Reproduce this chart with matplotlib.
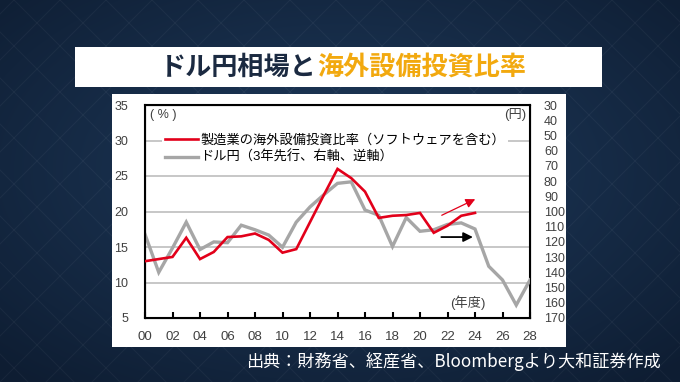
import numpy as np
import matplotlib.pyplot as plt
from matplotlib.patches import Rectangle
from matplotlib.lines import Line2D

plt.rcParams['font.family'] = ['Liberation Sans', 'Noto Sans CJK JP', 'DejaVu Sans']

# fiscal year, 00 = FY2000
fy_ratio = list(range(0, 25))
ratio = [13.0, 13.3, 13.6, 16.3, 13.3, 14.3, 16.4, 16.5, 16.9, 16.0,
         14.2, 14.7, 18.5, 22.3, 26.0, 24.7, 22.8, 19.1, 19.4, 19.5,
         19.8, 17.0, 18.0, 19.4, 19.8]

# USD/JPY, 3 years ahead (right axis, inverted)
fy_yen = list(range(0, 29))
usdjpy = [115, 140, 124, 107, 125, 120, 120.5, 109, 112, 115.5,
          123.5, 107, 97, 89, 81.5, 80.5, 99, 102.5, 123, 104,
          113, 112, 108.5, 107.5, 111.5, 136, 145, 161.5, 145]

x_ticks = list(range(0, 29, 2))
x_labels = [f"{t:02d}" for t in x_ticks]
left_ticks = [5, 10, 15, 20, 25, 30, 35]
right_ticks = list(range(30, 171, 10))

# trend arrows (from, to) in fiscal year / left-axis units
red_arrow = [(21.4, 19.3), (24.2, 21.9)]
black_arrow = [(21.35, 16.4), (24.05, 16.4)]

RED = '#e2001a'
GRAY = '#a6a6a6'

fig = plt.figure(figsize=(6.8, 3.82), dpi=100)

# ---- dark background with faint diamond pattern
bg = fig.add_axes([0, 0, 1, 1])
bg.axis('off')
yy, xx = np.mgrid[0:382, 0:680]
r = np.hypot((xx - 340) / 680, (yy - 170) / 382)
t = np.clip(r / 0.72, 0, 1)[..., None]
c_mid = np.array([0x1f, 0x3b, 0x5d]) / 255
c_edge = np.array([0x0e, 0x1d, 0x32]) / 255
bg.imshow(c_mid * (1 - t) + c_edge * t, extent=(0, 680, 382, 0), aspect='auto')
for k in range(-400, 1100, 46):
    bg.plot([k, k + 382], [0, 382], color='white', alpha=0.04, lw=0.8)
    bg.plot([k, k - 382], [0, 382], color='white', alpha=0.04, lw=0.8)
bg.set_xlim(0, 680)
bg.set_ylim(382, 0)

bg.add_patch(Rectangle((75, 47), 527, 40, fc='white', ec='none'))
bg.add_patch(Rectangle((112, 94), 454, 253, fc='white', ec='none'))

t1 = bg.text(160, 67, 'ドル円相場と', color='#1b2a41', fontsize=18.8,
             fontweight='bold', family='Noto Sans CJK JP', ha='left', va='center')
bg.annotate('海外設備投資比率', xy=(1, 0.5), xycoords=t1, color='#f2a90f',
            fontsize=18.8, fontweight='bold', family='Noto Sans CJK JP',
            ha='left', va='center')
bg.text(661, 362, '出典：財務省、経産省、Bloombergより大和証券作成', color='white',
        fontsize=12.3, family='Noto Sans CJK JP', ha='right', va='center')

# ---- chart
ax = fig.add_axes([145 / 680, 1 - 318 / 382, 385 / 680, 213 / 382])
ax.set_xlim(0, 28)
ax.set_ylim(5, 35)
ax.set_yticks(left_ticks)
ax.yaxis.grid(True, color='#c3c3c3', lw=1.3)
ax.set_axisbelow(True)
ax.tick_params(axis='y', length=0, pad=12, labelsize=9, labelcolor='#404040')
ax.set_xticks(x_ticks, x_labels)
ax.tick_params(axis='x', direction='in', length=4, width=1.5, pad=9,
               labelsize=9.5, labelcolor='#404040')
for s in ax.spines.values():
    s.set_linewidth(1.5)
    s.set_color('black')

ax2 = ax.twinx()
ax2.set_ylim(170, 30)
ax2.set_yticks(right_ticks)
ax2.tick_params(axis='y', length=0, pad=10, labelsize=9, labelcolor='#404040')
ax2.plot(fy_yen, usdjpy, color=GRAY, lw=2.4, solid_joinstyle='miter')

ax3 = ax.twinx()
ax3.set_ylim(5, 35)
ax3.axis('off')
ax3.plot(fy_ratio, ratio, color=RED, lw=1.9, solid_joinstyle='miter')
ax3.annotate('', xy=red_arrow[1], xytext=red_arrow[0],
             arrowprops=dict(arrowstyle='-|>', color=RED, lw=0.9, mutation_scale=14))
ax3.annotate('', xy=black_arrow[1], xytext=black_arrow[0],
             arrowprops=dict(arrowstyle='-|>', color='black', lw=1.3, mutation_scale=14))

handles = [Line2D([], [], color=RED, lw=1.9), Line2D([], [], color=GRAY, lw=2.4)]
labels = ['製造業の海外設備投資比率（ソフトウェアを含む）', 'ドル円（3年先行、右軸、逆軸）']
ax3.legend(handles, labels, loc='upper left', bbox_to_anchor=(0.045, 0.875),
           frameon=True, facecolor='white', edgecolor='none', framealpha=1,
           fancybox=False, fontsize=9.5, handlelength=2.5, handletextpad=0.2,
           labelspacing=0.32, borderpad=0.2, borderaxespad=0)

ax3.text(0.013, 0.955, '( % )', transform=ax3.transAxes, fontsize=9,
         color='#404040', ha='left', va='center')
ax3.text(0.99, 0.955, '(円)', transform=ax3.transAxes, fontsize=9.5,
         color='#404040', ha='right', va='center')
ax3.text(23.5, 7.1, '(年度)', fontsize=9.5, color='#404040', ha='center', va='center')

fig.savefig('out.png', dpi=100)
